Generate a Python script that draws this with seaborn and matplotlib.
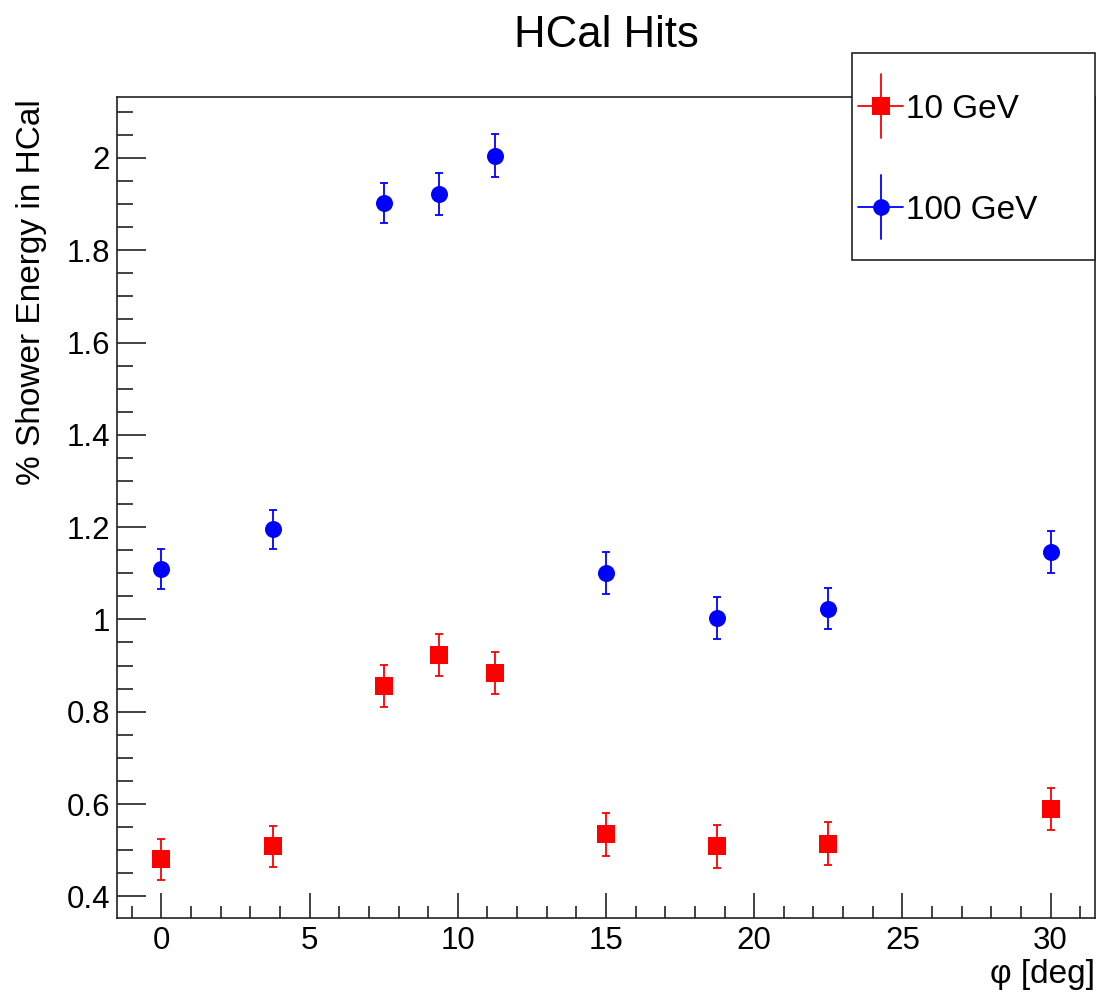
import matplotlib.pyplot as plt
import pandas as pd
import seaborn as sns
from matplotlib.legend_handler import HandlerBase
from matplotlib.lines import Line2D
from matplotlib.patches import Rectangle
from matplotlib.ticker import MultipleLocator

sns.set_style("ticks")
plt.rcParams['font.family'] = ['Liberation Sans', 'DejaVu Sans']
plt.rcParams['text.color'] = 'black'
plt.rcParams['axes.labelcolor'] = 'black'

# phi angle [deg] and fraction of shower energy in HCal
phi = [0, 3.75, 7.5, 9.375, 11.25, 15, 18.75, 22.5, 30]
e10 = [0.480, 0.508, 0.856, 0.923, 0.884, 0.534, 0.508, 0.514, 0.589]
err10 = [0.044, 0.045, 0.045, 0.045, 0.045, 0.047, 0.047, 0.047, 0.045]
e100 = [1.109, 1.195, 1.902, 1.922, 2.005, 1.101, 1.003, 1.023, 1.146]
err100 = [0.044, 0.043, 0.044, 0.045, 0.046, 0.045, 0.045, 0.044, 0.045]

df10 = pd.DataFrame({'phi': phi, 'energy': e10})
df100 = pd.DataFrame({'phi': phi, 'energy': e100})


# ROOT style legend entry: marker with a full cross through it
class CrossHandler(HandlerBase):
    def create_artists(self, legend, orig_handle, xdescent, ydescent,
                       width, height, fontsize, trans):
        cx = 0.5 * width - xdescent
        cy = 0.5 * height - ydescent
        c = orig_handle.get_color()
        hline = Line2D([-xdescent, width - xdescent], [cy, cy], color=c, lw=1.3)
        vline = Line2D([cx, cx], [cy - 23, cy + 23], color=c, lw=1.3)
        mark = Line2D([cx], [cy], marker=orig_handle.get_marker(),
                      markersize=orig_handle.get_markersize(), color=c,
                      ls='none', mew=0)
        for a in (hline, vline, mark):
            a.set_transform(trans)
        return [hline, vline, mark]


fig = plt.figure(figsize=(10.97, 9.92), dpi=100)
ax = fig.add_axes([117/1097, 74/992, 978/1097, 821/992])

ax.errorbar(df10['phi'], df10['energy'], yerr=err10, fmt='none', ecolor='#ff0000',
            elinewidth=1.3, capsize=3.2, capthick=1.3, zorder=2)
ax.errorbar(df100['phi'], df100['energy'], yerr=err100, fmt='none', ecolor='#0000ff',
            elinewidth=1.3, capsize=3.2, capthick=1.3, zorder=2)
sns.scatterplot(data=df10, x='phi', y='energy', marker='s', color='#ff0000',
                s=169, linewidth=0, ax=ax, zorder=3)
sns.scatterplot(data=df100, x='phi', y='energy', marker='o', color='#0000ff',
                s=150, linewidth=0, ax=ax, zorder=3)

ax.set_xlim(-1.5, 31.5)
ax.set_ylim(0.353, 2.132)
ax.xaxis.set_major_locator(MultipleLocator(5))
ax.xaxis.set_minor_locator(MultipleLocator(1))
ax.yaxis.set_major_locator(MultipleLocator(0.2))
ax.yaxis.set_minor_locator(MultipleLocator(0.05))
ax.yaxis.set_major_formatter(plt.FuncFormatter(lambda v, p: f'{v:g}'))

ax.tick_params(which='both', direction='in', width=1.2, color='#222222',
               labelcolor='black', labelsize=22.5, top=False, right=False)
ax.tick_params(axis='x', which='major', length=18, pad=6)
ax.tick_params(axis='x', which='minor', length=8.6)
ax.tick_params(axis='y', which='major', length=21, pad=5)
ax.tick_params(axis='y', which='minor', length=11.5)
for sp in ax.spines.values():
    sp.set_visible(True)
    sp.set_linewidth(1.2)
    sp.set_color('#222222')

ax.set_title('HCal Hits', fontsize=31.5, pad=36)
ax.set_xlabel('φ [deg]', fontsize=24, loc='right')
ax.xaxis.set_label_coords(1.0, -0.05)
ax.set_ylabel('% Shower Energy in HCal', fontsize=24, loc='top')
ax.yaxis.set_label_coords(-0.072, 0.997)

# legend box drawn over the frame, like ROOT's TLegend
fig.add_artist(Rectangle((852/1097, 1 - 260/992), 243/1097, 207/992,
                         transform=fig.transFigure, facecolor='white',
                         edgecolor='#222222', lw=1.2, zorder=5))
h10 = Line2D([], [], color='#ff0000', marker='s', markersize=13)
h100 = Line2D([], [], color='#0000ff', marker='o', markersize=12)
leg = fig.legend(handles=[h10, h100], labels=['10 GeV', '100 GeV'],
                 handler_map={Line2D: CrossHandler()}, loc='upper left',
                 bbox_to_anchor=(858/1097, 1 - 94/992), frameon=False,
                 fontsize=24, borderpad=0, borderaxespad=0, handlelength=1.35,
                 handletextpad=0.1, labelspacing=2.1)
leg.set_zorder(6)

fig.savefig('out.png', dpi=100)
